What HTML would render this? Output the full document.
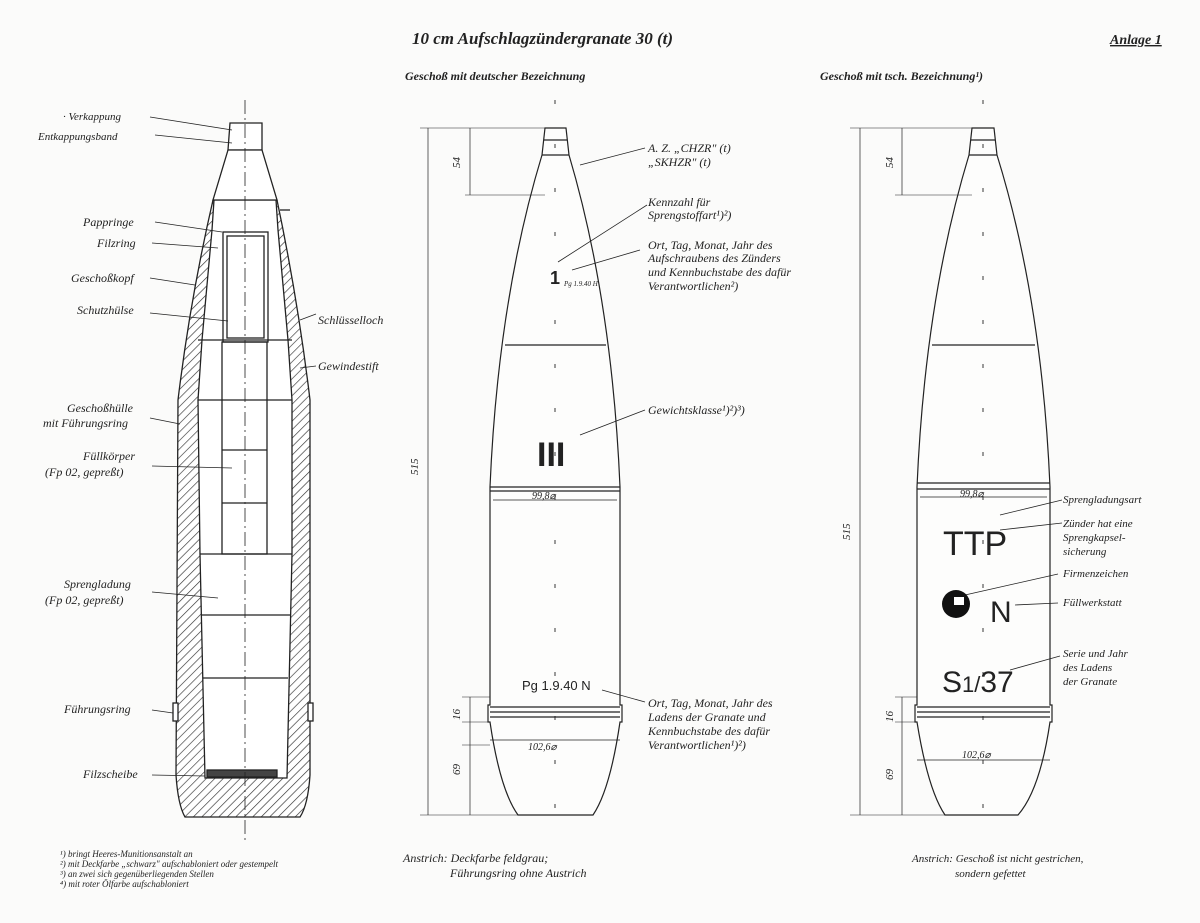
<!DOCTYPE html>
<html><head><meta charset="utf-8"><style>
body{margin:0;background:#fbfbfa;}
svg{display:block}
text{font-family:"Liberation Serif",serif;font-style:italic;fill:#222;}
.b{font-weight:bold;}
.s{font-size:12px;}
.f{font-size:9px;}
.n{font-family:"Liberation Sans",sans-serif !important;font-style:normal !important;}
</style></head><body>
<svg width="1200" height="923" viewBox="0 0 1200 923" xmlns="http://www.w3.org/2000/svg">
<defs>
<pattern id="h" width="6" height="6" patternUnits="userSpaceOnUse" patternTransform="rotate(45)">
<rect width="6" height="6" fill="#fff"/><line x1="0" y1="0" x2="0" y2="6" stroke="#333" stroke-width="1.3"/></pattern>
</defs>
<rect width="1200" height="923" fill="#fbfbfa"/>
<text x="412" y="44" class="b" font-size="17">10 cm Aufschlagzündergranate 30 (t)</text>
<text x="1110" y="44" class="b" font-size="14" text-decoration="underline">Anlage 1</text>
<text x="405" y="80" class="b" font-size="12">Geschoß mit deutscher Bezeichnung</text>
<text x="820" y="80" class="b" font-size="12">Geschoß mit tsch. Bezeichnung¹)</text>

<!-- LEFT SHELL -->
<g stroke="#222" stroke-width="1.3" fill="none">
<path d="M213,200 Q190,300 178,400 L176,775 Q178,805 185,817 L300,817 Q308,805 310,775 L310,400 Q298,300 277,200 Z" fill="url(#h)"/>
<path d="M214,200 L276,200 L278,230 L288,340 L292,400 L292,554 L287,778 L205,778 L200,554 L198,400 L202,340 L212,230 Z" fill="#fff"/>
<path d="M230,123 L262,123 L262,150 L228,150 Z" fill="#fff"/>
<path d="M228,150 L262,150 L277,200 L213,200 Z" fill="#fff"/>
<rect x="223" y="232" width="45" height="110" fill="#fff"/>
<rect x="227" y="236" width="37" height="102"/>
<line x1="198" y1="340" x2="292" y2="340"/>
<rect x="222" y="342" width="45" height="212"/>
<line x1="198" y1="400" x2="292" y2="400"/>
<line x1="222" y1="450" x2="267" y2="450"/>
<line x1="222" y1="503" x2="267" y2="503"/>
<line x1="200" y1="554" x2="292" y2="554"/>
<line x1="202" y1="615" x2="290" y2="615"/>
<line x1="203" y1="678" x2="288" y2="678"/>
<rect x="207" y="770" width="70" height="7" fill="#444"/>
<rect x="173" y="703" width="5" height="18" fill="#fff"/>
<rect x="308" y="703" width="5" height="18" fill="#fff"/>
<line x1="280" y1="210" x2="290" y2="210"/>
<line x1="245" y1="100" x2="245" y2="840" stroke-dasharray="14,4,2,4" stroke-width="0.8"/>
</g>
<g stroke="#222" stroke-width="0.8" fill="none">
<line x1="150" y1="117" x2="232" y2="130"/><line x1="155" y1="135" x2="232" y2="143"/>
<line x1="155" y1="222" x2="222" y2="232"/><line x1="152" y1="243" x2="218" y2="248"/>
<line x1="150" y1="278" x2="195" y2="285"/><line x1="150" y1="313" x2="228" y2="321"/>
<line x1="150" y1="418" x2="180" y2="424"/><line x1="152" y1="466" x2="232" y2="468"/>
<line x1="152" y1="592" x2="218" y2="598"/><line x1="152" y1="710" x2="173" y2="713"/>
<line x1="152" y1="775" x2="205" y2="776"/>
<line x1="300" y1="320" x2="316" y2="314"/><line x1="300" y1="368" x2="316" y2="366"/>
</g>
<g class="s">
<text x="63" y="120" font-size="11">· Verkappung</text>
<text x="38" y="140" font-size="11">Entkappungsband</text>
<text x="83" y="226">Pappringe</text>
<text x="97" y="247">Filzring</text>
<text x="71" y="282">Geschoßkopf</text>
<text x="77" y="314">Schutzhülse</text>
<text x="318" y="324">Schlüsselloch</text>
<text x="318" y="370">Gewindestift</text>
<text x="67" y="412">Geschoßhülle</text>
<text x="43" y="427">mit Führungsring</text>
<text x="83" y="460">Füllkörper</text>
<text x="45" y="476">(Fp 02, gepreßt)</text>
<text x="64" y="588">Sprengladung</text>
<text x="45" y="604">(Fp 02, gepreßt)</text>
<text x="64" y="713">Führungsring</text>
<text x="83" y="778">Filzscheibe</text>
</g>
<g class="f">
<text x="60" y="857">¹) bringt Heeres-Munitionsanstalt an</text>
<text x="60" y="867">²) mit Deckfarbe „schwarz" aufschabloniert oder gestempelt</text>
<text x="60" y="877">³) an zwei sich gegenüberliegenden Stellen</text>
<text x="60" y="887">⁴) mit roter Ölfarbe aufschabloniert</text>
</g>

<!-- MIDDLE SHELL -->
<g stroke="#222" stroke-width="1.2" fill="none">
<path d="M545,128 L566,128 L569,155 Q612,300 620,487 L620,705 L622,705 L622,722 L620,722 Q610,790 593,815 L518,815 Q500,790 490,722 L488,722 L488,705 L490,705 L490,487 Q498,300 542,155 Z" fill="#fdfdfc"/>
<line x1="555" y1="100" x2="555" y2="840" stroke-dasharray="4,40" stroke-width="0.9"/>
<line x1="542" y1="155" x2="569" y2="155"/><line x1="544" y1="140" x2="567" y2="140"/>
<line x1="505" y1="345" x2="606" y2="345"/>
<line x1="490" y1="487" x2="620" y2="487"/><line x1="490" y1="491" x2="620" y2="491"/>
<line x1="490" y1="707" x2="620" y2="707"/><line x1="490" y1="712" x2="620" y2="712"/><line x1="490" y1="717" x2="620" y2="717"/>
<line x1="493" y1="500" x2="617" y2="500" stroke-width="0.7"/>
<line x1="490" y1="740" x2="620" y2="740" stroke-width="0.7"/>
<line x1="428" y1="128" x2="428" y2="815" stroke-width="0.7"/>
<line x1="420" y1="128" x2="545" y2="128" stroke-width="0.6"/>
<line x1="420" y1="815" x2="518" y2="815" stroke-width="0.6"/>
<line x1="470" y1="128" x2="470" y2="195" stroke-width="0.7"/>
<line x1="465" y1="195" x2="545" y2="195" stroke-width="0.6"/>
<line x1="470" y1="697" x2="470" y2="815" stroke-width="0.7"/>
<line x1="462" y1="697" x2="490" y2="697" stroke-width="0.6"/>
<line x1="462" y1="722" x2="490" y2="722" stroke-width="0.6"/>
<line x1="462" y1="745" x2="490" y2="745" stroke-width="0.6"/>
</g>
<g stroke="#222" stroke-width="0.8">
<line x1="580" y1="165" x2="645" y2="148"/>
<line x1="558" y1="262" x2="647" y2="205"/>
<line x1="572" y1="270" x2="640" y2="250"/>
<line x1="580" y1="435" x2="645" y2="410"/>
<line x1="602" y1="690" x2="645" y2="702"/>
</g>
<g class="s" font-size="11">
<text x="648" y="152">A. Z. „CHZR" (t)</text>
<text x="648" y="166">„SKHZR" (t)</text>
<text x="648" y="206">Kennzahl für</text>
<text x="648" y="219">Sprengstoffart¹)²)</text>
<text x="648" y="249">Ort, Tag, Monat, Jahr des</text>
<text x="648" y="262">Aufschraubens des Zünders</text>
<text x="648" y="276">und Kennbuchstabe des dafür</text>
<text x="648" y="290">Verantwortlichen²)</text>
<text x="648" y="414">Gewichtsklasse¹)²)³)</text>
<text x="648" y="707">Ort, Tag, Monat, Jahr des</text>
<text x="648" y="721">Ladens der Granate und</text>
<text x="648" y="735">Kennbuchstabe des dafür</text>
<text x="648" y="749">Verantwortlichen¹)²)</text>
<text x="403" y="862">Anstrich: Deckfarbe feldgrau;</text>
<text x="450" y="877">Führungsring ohne Austrich</text>
<text x="532" y="499" font-size="10">99,8⌀</text>
<text x="528" y="750" font-size="10">102,6⌀</text>
<text x="522" y="690" font-size="13" class="n">Pg 1.9.40 N</text>
<text x="550" y="284" font-size="18" class="n b">1</text>
<text x="564" y="286" font-size="7">Pg 1.9.40 H</text>
</g>
<text x="537" y="466" class="n" font-size="34" font-weight="bold" style="font-family:'Liberation Sans Narrow','Liberation Sans',sans-serif">III</text>
<g font-size="11">
<text transform="translate(418,475) rotate(-90)" x="0" y="0">515</text>
<text transform="translate(460,168) rotate(-90)">54</text>
<text transform="translate(460,720) rotate(-90)">16</text>
<text transform="translate(460,775) rotate(-90)">69</text>
</g>

<!-- RIGHT SHELL -->
<g stroke="#222" stroke-width="1.2" fill="none">
<path d="M972,128 L994,128 L997,155 Q1042,300 1050,487 L1050,705 L1052,705 L1052,722 L1050,722 Q1040,790 1018,815 L945,815 Q928,790 917,722 L915,722 L915,705 L917,705 L917,487 Q925,300 969,155 Z" fill="#fdfdfc"/>
<line x1="983" y1="100" x2="983" y2="840" stroke-dasharray="4,40" stroke-width="0.9"/>
<line x1="969" y1="155" x2="997" y2="155"/><line x1="971" y1="140" x2="995" y2="140"/>
<line x1="932" y1="345" x2="1035" y2="345"/>
<line x1="917" y1="483" x2="1050" y2="483"/><line x1="917" y1="489" x2="1050" y2="489"/>
<line x1="917" y1="707" x2="1050" y2="707"/><line x1="917" y1="712" x2="1050" y2="712"/><line x1="917" y1="717" x2="1050" y2="717"/>
<line x1="920" y1="497" x2="1047" y2="497" stroke-width="0.7"/>
<line x1="917" y1="760" x2="1050" y2="760" stroke-width="0.7"/>
<line x1="860" y1="128" x2="860" y2="815" stroke-width="0.7"/>
<line x1="850" y1="128" x2="972" y2="128" stroke-width="0.6"/>
<line x1="850" y1="815" x2="945" y2="815" stroke-width="0.6"/>
<line x1="902" y1="128" x2="902" y2="195" stroke-width="0.7"/>
<line x1="895" y1="195" x2="972" y2="195" stroke-width="0.6"/>
<line x1="895" y1="697" x2="917" y2="697" stroke-width="0.6"/>
<line x1="895" y1="722" x2="917" y2="722" stroke-width="0.6"/>
<line x1="902" y1="697" x2="902" y2="815" stroke-width="0.7"/>
</g>
<g stroke="#222" stroke-width="0.8">
<line x1="1000" y1="515" x2="1062" y2="500"/>
<line x1="1000" y1="530" x2="1062" y2="523"/>
<line x1="965" y1="595" x2="1058" y2="574"/>
<line x1="1015" y1="605" x2="1058" y2="603"/>
<line x1="1010" y1="670" x2="1060" y2="656"/>
</g>
<circle cx="956" cy="604" r="14" fill="#111"/>
<rect x="954" y="597" width="10" height="8" fill="#fff"/>
<text x="990" y="622" class="n" font-size="30">N</text>
<text x="943" y="555" class="n" font-size="34" style="font-family:'Liberation Sans Narrow','Liberation Sans',sans-serif">TTP</text>
<text x="942" y="692" class="n" font-size="30" style="font-family:'Liberation Sans Narrow','Liberation Sans',sans-serif">S<tspan font-size="22">1/</tspan>37</text>
<g font-size="11">
<text x="1063" y="503">Sprengladungsart</text>
<text x="1063" y="527">Zünder hat eine</text>
<text x="1063" y="541">Sprengkapsel-</text>
<text x="1063" y="555">sicherung</text>
<text x="1063" y="577">Firmenzeichen</text>
<text x="1063" y="606">Füllwerkstatt</text>
<text x="1063" y="657">Serie und Jahr</text>
<text x="1063" y="671">des Ladens</text>
<text x="1063" y="685">der Granate</text>
<text x="960" y="497" font-size="10">99,8⌀</text>
<text x="962" y="758" font-size="10">102,6⌀</text>
<text x="912" y="862">Anstrich: Geschoß ist nicht gestrichen,</text>
<text x="955" y="877">sondern gefettet</text>
<text transform="translate(850,540) rotate(-90)">515</text>
<text transform="translate(893,168) rotate(-90)">54</text>
<text transform="translate(893,722) rotate(-90)">16</text>
<text transform="translate(893,780) rotate(-90)">69</text>
</g>
</svg>
</body></html>
